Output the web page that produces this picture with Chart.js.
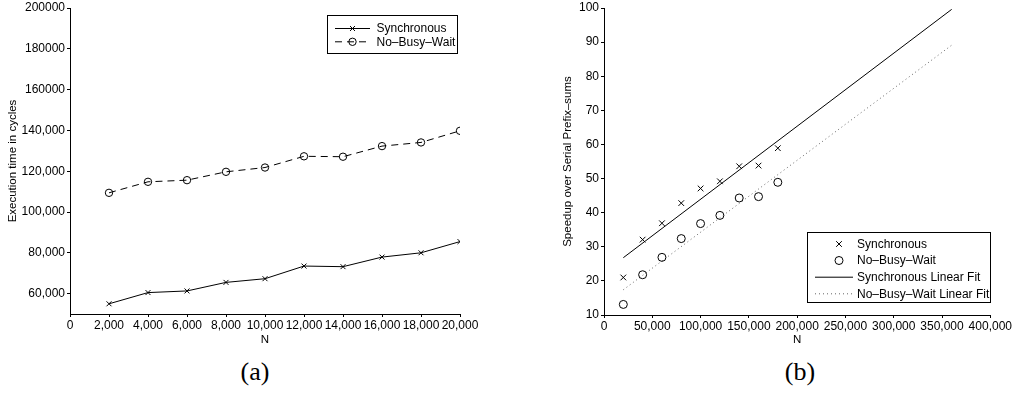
<!DOCTYPE html>
<html>
<head>
<meta charset="utf-8">
<script src="https://cdn.jsdelivr.net/npm/chart.js@4.4.0/dist/chart.umd.min.js"></script>
<style>
  html, body { margin: 0; padding: 0; background: #fff; }
  body { width: 1015px; height: 398px; position: relative; overflow: hidden; }
  canvas { position: absolute; top: 0; }
  #chartA { left: 0; }
  #chartB { left: 520px; }
  .caption {
    position: absolute; top: 359px; line-height: 26px;
    font-family: "Liberation Serif", "DejaVu Serif", serif; font-size: 26px;
    transform: translateX(-50%); color: #000;
  }
</style>
</head>
<body>
<canvas id="chartA" width="500" height="352"></canvas>
<canvas id="chartB" width="495" height="352"></canvas>
<div class="caption" style="left:255px">(a)</div>
<div class="caption" style="left:800px">(b)</div>
<script>
// (a) execution time vs N
const nA = [2000, 4000, 6000, 8000, 10000, 12000, 14000, 16000, 18000, 20000];
const syncA = [55000, 60500, 61300, 65500, 67300, 73500, 73200, 77900, 80000, 85500];
const noBusyA = [109400, 114800, 115600, 119700, 121800, 127300, 127100, 132300, 134100, 139800];
const xTicksA = [0, 2000, 4000, 6000, 8000, 10000, 12000, 14000, 16000, 18000, 20000];
const xLabelsA = ['0', '2,000', '4,000', '6,000', '8,000', '10,000', '12,000', '14,000', '16,000', '18,000', '20,000'];
const yTicksA = [60000, 80000, 100000, 120000, 140000, 160000, 180000, 200000];
const yLabelsA = ['60,000', '80,000', '100,000', '120,000', '140,000', '160000', '180000', '200000'];

// (b) speedup vs N
const nB = [20000, 40000, 60000, 80000, 100000, 120000, 140000, 160000, 180000];
const syncB = [21.0, 32.1, 36.9, 42.8, 47.1, 49.2, 53.6, 53.8, 58.9];
const noBusyB = [13.1, 21.8, 26.9, 32.4, 36.8, 39.2, 44.3, 44.7, 48.9];
const fitN = [20000, 360000];
const syncFitB = [26.8, 99.6];
const noBusyFitB = [17.4, 89.1];
const xTicksB = [0, 50000, 100000, 150000, 200000, 250000, 300000, 350000, 400000];
const xLabelsB = ['0', '50,000', '100,000', '150,000', '200,000', '250,000', '300,000', '350,000', '400,000'];
const yTicksB = [10, 20, 30, 40, 50, 60, 70, 80, 90, 100];
const yLabelsB = ['10', '20', '30', '40', '50', '60', '70', '80', '90', '100'];

const FONT = '"Liberation Sans", Arial, sans-serif';
Chart.defaults.font.family = FONT;
Chart.defaults.font.size = 12;
Chart.defaults.color = '#000';

const pts = (xs, ys) => xs.map((x, i) => ({x: x, y: ys[i]}));

function drawMarker(ctx, style, x, y, r) {
  ctx.beginPath();
  if (style === 'circle') {
    ctx.arc(x, y, r, 0, Math.PI * 2);
  } else {
    const d = r * Math.SQRT1_2;
    ctx.moveTo(x - d, y - d); ctx.lineTo(x + d, y + d);
    ctx.moveTo(x - d, y + d); ctx.lineTo(x + d, y - d);
  }
  ctx.stroke();
}

// legend box drawn inside the plot, like the matlab one
const boxLegend = {
  id: 'boxLegend',
  afterDraw(chart, args, o) {
    const ctx = chart.ctx;
    ctx.save();
    ctx.fillStyle = '#fff';
    ctx.fillRect(o.x, o.y, o.w, o.h);
    ctx.strokeStyle = '#000';
    ctx.lineWidth = 1;
    ctx.strokeRect(o.x + 0.5, o.y + 0.5, o.w, o.h);
    ctx.font = '12px ' + FONT;
    ctx.textBaseline = 'middle';
    chart.data.datasets.forEach((ds, i) => {
      const y = o.rows[i];
      ctx.strokeStyle = ds.borderColor;
      ctx.lineWidth = 1;
      if (ds.showLine !== false) {
        ctx.setLineDash(ds.borderDash || []);
        ctx.beginPath();
        ctx.moveTo(o.line0, y + 0.5);
        ctx.lineTo(o.line1, y + 0.5);
        ctx.stroke();
        ctx.setLineDash([]);
      }
      if (ds.pointRadius > 0) {
        ctx.strokeStyle = '#000';
        drawMarker(ctx, ds.pointStyle, o.mark, y + 0.5, ds.pointRadius);
      }
      ctx.fillStyle = '#000';
      ctx.fillText(ds.label, o.text, y + 1);
    });
    ctx.restore();
  }
};

function axis(ticksArr, labelsArr, min, max, title, titlePad, fit, vertical) {
  return {
    type: 'linear',
    min: min,
    max: max,
    afterBuildTicks: s => { s.ticks = ticksArr.map(v => ({value: v})); },
    afterFit: s => { if (vertical) s.width = fit; else s.height = fit; },
    ticks: {
      autoSkip: false,
      maxRotation: 0,
      padding: vertical ? 2 : 3,
      color: '#000',
      font: { size: 12, lineHeight: 1 },
      callback: v => labelsArr[ticksArr.indexOf(v)]
    },
    grid: { drawOnChartArea: false, drawTicks: true, tickLength: 3, color: '#000' },
    border: { display: true, color: '#000', width: 1 },
    title: { display: true, text: title, color: '#000', font: { size: 11.5 }, padding: titlePad }
  };
}

new Chart(document.getElementById('chartA'), {
  type: 'line',
  data: {
    datasets: [{
      label: 'Synchronous',
      data: pts(nA, syncA),
      borderColor: '#000',
      borderWidth: 1,
      pointStyle: 'crossRot',
      pointRadius: 3.5,
      pointBorderColor: '#000',
      pointBorderWidth: 1,
      tension: 0
    }, {
      label: 'No\u2013Busy\u2013Wait',
      data: pts(nA, noBusyA),
      borderColor: '#000',
      borderWidth: 1,
      borderDash: [7, 5],
      pointStyle: 'circle',
      pointRadius: 3.7,
      pointBackgroundColor: 'rgba(0,0,0,0)',
      pointBorderColor: '#000',
      pointBorderWidth: 1,
      tension: 0
    }]
  },
  options: {
    responsive: false,
    animation: false,
    layout: { padding: { top: 7, right: 40, bottom: 0, left: 0 } },
    scales: {
      x: axis(xTicksA, xLabelsA, 0, 20000, 'N', {top: 0, bottom: 5}, 38, false),
      y: axis(yTicksA, yLabelsA, 50000, 200000, 'Execution time in cycles', {top: 6, bottom: 0}, 70, true)
    },
    plugins: {
      legend: { display: false },
      tooltip: { enabled: false },
      boxLegend: { x: 327, y: 15, w: 130, h: 38, rows: [28, 41.3], line0: 335, line1: 370, mark: 352.5, text: 376.5 }
    }
  },
  plugins: [boxLegend]
});

new Chart(document.getElementById('chartB'), {
  type: 'scatter',
  data: {
    datasets: [{
      label: 'Synchronous',
      data: pts(nB, syncB),
      borderColor: '#000',
      showLine: false,
      pointStyle: 'crossRot',
      pointRadius: 4,
      pointBorderColor: '#000',
      pointBorderWidth: 1
    }, {
      label: 'No\u2013Busy\u2013Wait',
      data: pts(nB, noBusyB),
      borderColor: '#000',
      showLine: false,
      pointStyle: 'circle',
      pointRadius: 4,
      pointBackgroundColor: 'rgba(0,0,0,0)',
      pointBorderColor: '#000',
      pointBorderWidth: 1
    }, {
      label: 'Synchronous Linear Fit',
      data: pts(fitN, syncFitB),
      borderColor: '#000',
      borderWidth: 1,
      showLine: true,
      pointRadius: 0
    }, {
      label: 'No\u2013Busy\u2013Wait Linear Fit',
      data: pts(fitN, noBusyFitB),
      borderColor: '#666',
      borderWidth: 1,
      borderDash: [1, 3],
      showLine: true,
      pointRadius: 0
    }]
  },
  options: {
    responsive: false,
    animation: false,
    layout: { padding: { top: 6, right: 20, bottom: 0, left: 0 } },
    scales: {
      x: axis(xTicksB, xLabelsB, 0, 400000, 'N', {top: 0, bottom: 5}, 37, false),
      y: axis(yTicksB, yLabelsB, 10, 100, 'Speedup over Serial Prefix\u2013sums', {top: 41, bottom: 0}, 84, true)
    },
    plugins: {
      legend: { display: false },
      tooltip: { enabled: false },
      boxLegend: { x: 287, y: 232, w: 183, h: 70, rows: [243.5, 260, 276.7, 293.3], line0: 295, line1: 333, mark: 319, text: 337 }
    }
  },
  plugins: [boxLegend]
});
</script>
</body>
</html>
